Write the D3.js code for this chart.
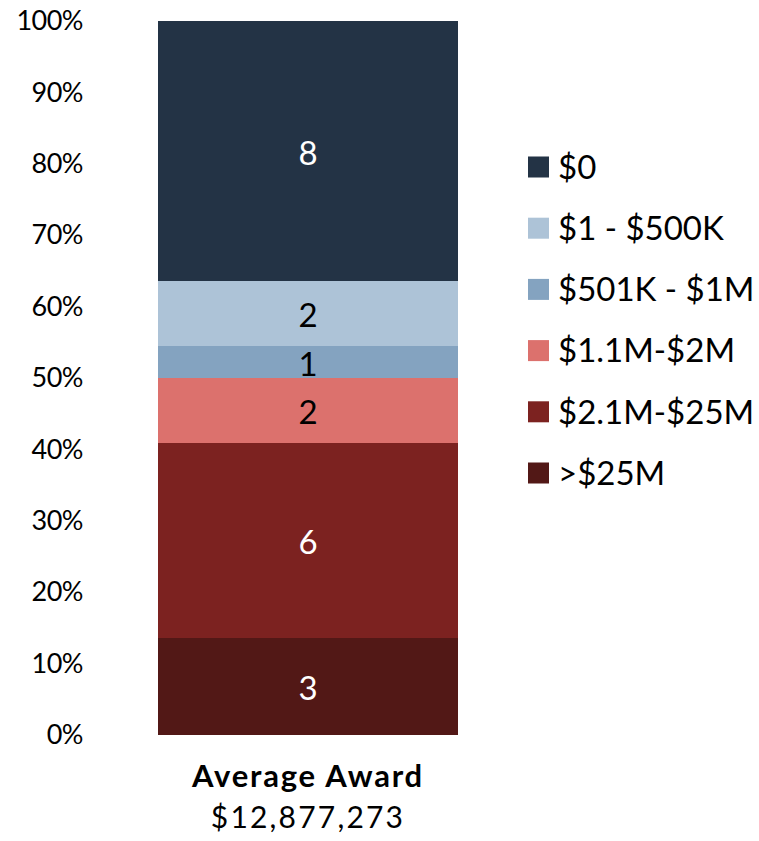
<!DOCTYPE html>
<html>
<head>
<meta charset="utf-8">
<script src="https://cdn.jsdelivr.net/npm/d3@7"></script>
<style>
  html, body { margin: 0; padding: 0; background: #fff; }
  svg { display: block; font-family: Lato, "Open Sans", sans-serif; }
</style>
</head>
<body>
<svg id="chart" width="759" height="841"></svg>
<script>
// Data
const categories = ["Average Award"];
const seriesNames = [">$25M", "$2.1M-$25M", "$1.1M-$2M", "$501K - $1M", "$1 - $500K", "$0"];
const seriesValues = [3, 6, 2, 1, 2, 8];
const seriesColors = ["#521816", "#7c2220", "#dc716d", "#84a3c0", "#adc3d7", "#233345"];
const labelColors = ["#fff", "#fff", "#000", "#000", "#000", "#fff"];
const legendOrder = ["$0", "$1 - $500K", "$501K - $1M", "$1.1M-$2M", "$2.1M-$25M", ">$25M"];
const tickValues = [0, 0.1, 0.2, 0.3, 0.4, 0.5, 0.6, 0.7, 0.8, 0.9, 1.0];
const subtitle = "$12,877,273";

const svg = d3.select("#chart");
const total = d3.sum(seriesValues);

const y = d3.scaleLinear().domain([0, 1]).range([735, 21]);
const x = d3.scaleBand().domain(categories).range([158, 458]).padding(0);

// stack
const row = {};
seriesNames.forEach((n, i) => row[n] = seriesValues[i] / total);
const stack = d3.stack().keys(seriesNames)([row]);

// y axis
const yAxis = d3.axisLeft(y).tickValues(tickValues).tickFormat(d3.format(".0%")).tickSize(0).tickPadding(0);
const ga = svg.append("g").attr("transform", "translate(83,0)").call(yAxis);
ga.select(".domain").remove();
ga.selectAll("text").attr("font-size", 27).attr("fill", "#000")
  .attr("font-family", "Lato, 'Open Sans', sans-serif").attr("letter-spacing", "-0.5");

// bars
const segs = svg.append("g").selectAll("g").data(stack).join("g");
segs.append("rect")
  .attr("x", x(categories[0]))
  .attr("width", x.bandwidth())
  .attr("y", d => y(d[0][1]))
  .attr("height", d => y(d[0][0]) - y(d[0][1]))
  .attr("shape-rendering", "crispEdges")
  .attr("fill", (d, i) => seriesColors[i]);
segs.append("text")
  .attr("x", x(categories[0]) + x.bandwidth() / 2)
  .attr("y", d => (y(d[0][0]) + y(d[0][1])) / 2)
  .attr("dy", "0.42em")
  .attr("text-anchor", "middle")
  .attr("font-size", 33)
  .attr("fill", (d, i) => labelColors[i])
  .text((d, i) => seriesValues[i]);

// legend
const lg = svg.append("g");
const ly = d3.scalePoint().domain(legendOrder).range([167, 473]);
legendOrder.forEach(name => {
  const i = seriesNames.indexOf(name);
  lg.append("rect").attr("x", 528).attr("y", ly(name) - 10.5).attr("width", 21).attr("height", 21).attr("fill", seriesColors[i]);
  lg.append("text").attr("x", 558).attr("y", ly(name)).attr("dy", "0.36em")
    .attr("font-size", 33).attr("fill", "#000").text(name);
});

// category labels
const cx = x(categories[0]) + x.bandwidth() / 2;
svg.append("text").attr("x", cx).attr("y", 787).attr("text-anchor", "middle")
  .attr("font-size", 31).attr("font-weight", "bold").attr("letter-spacing", "1.8")
  .attr("fill", "#000").text(categories[0]);
svg.append("text").attr("x", cx).attr("y", 828).attr("text-anchor", "middle")
  .attr("font-size", 30).attr("letter-spacing", "2.2")
  .attr("fill", "#000").text(subtitle);
</script>
</body>
</html>
